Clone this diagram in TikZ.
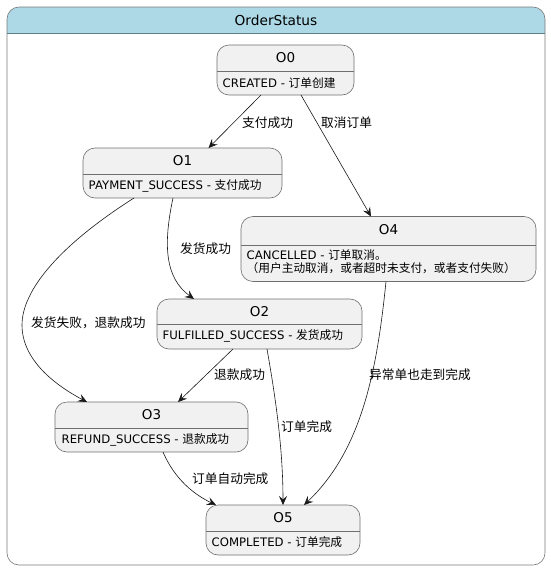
\documentclass[tikz,border=0pt]{standalone}
\usepackage{fontspec}
\setmainfont{DejaVu Sans}
\newfontfamily\cjk{Noto Sans CJK SC}
\usetikzlibrary{arrows.meta}
\definecolor{hdrblue}{HTML}{ADD8E6}
\definecolor{hdrline}{HTML}{5F7F8A}
\definecolor{contline}{HTML}{7A7A7A}
\definecolor{boxfill}{HTML}{F1F1F1}
\definecolor{boxline}{HTML}{6F6F6F}
\definecolor{edgecol}{HTML}{181818}
\tikzset{
  statebox/.style={draw=boxline, fill=boxfill, rounded corners=12pt, line width=0.6pt, inner sep=0pt, outer sep=0pt},
  sepline/.style={draw=boxline, line width=0.6pt},
  stitle/.style={font=\fontsize{13.5}{16}\selectfont, inner sep=0pt},
  sbody/.style={font=\fontsize{11.7}{14}\selectfont, anchor=west, inner sep=0pt},
  elabel/.style={font=\fontsize{12.7}{15}\selectfont, anchor=west, inner sep=0pt},
  hdrtitle/.style={font=\fontsize{13.7}{16}\selectfont, inner sep=0pt},
  trans/.style={draw=edgecol, line width=0.6pt, -{Stealth[length=9pt,width=8pt,inset=3.5pt]}}
}
\begin{document}
\begin{tikzpicture}[x=1pt,y=-1pt]
\useasboundingbox (0,0) rectangle (551,570);
% container
\fill[hdrblue] (7,33) [rounded corners=12pt] -- (7,7) -- (545,7) [sharp corners] -- (545,33) -- cycle;
\node[draw=contline, rounded corners=12pt, line width=0.6pt, minimum width=538pt, minimum height=558pt, inner sep=0pt, outer sep=0pt] (box) at (276,286) {};
\draw[hdrline, line width=0.6pt] ([yshift=-26pt]box.north west) -- ([yshift=-26pt]box.north east);
\node[hdrtitle] (hdr) at (276,20) {OrderStatus};

% O0
\node[statebox, minimum width=137pt, minimum height=50pt] (O0) at (285.5,70) {};
\draw[sepline] ([yshift=-1.5pt]O0.west) -- ([yshift=-1.5pt]O0.east);
\node[stitle] (O0t) at (285.5,58) {O0};
\node[sbody] (O0b) at (222.5,83) {CREATED - {\cjk 订单创建}};

% O1
\node[statebox, minimum width=199pt, minimum height=50pt] (O1) at (182.5,173) {};
\draw[sepline] ([yshift=-1pt]O1.west) -- ([yshift=-1pt]O1.east);
\node[stitle] (O1t) at (182.5,161) {O1};
\node[sbody] (O1b) at (88.5,185.5) {PAYMENT\_SUCCESS - {\cjk 支付成功}};

% O4
\node[statebox, minimum width=295pt, minimum height=65pt] (O4) at (388.5,249) {};
\draw[sepline] ([yshift=3.5pt]O4.west) -- ([yshift=3.5pt]O4.east);
\node[stitle] (O4t) at (388.5,229.5) {O4};
\node[sbody] (O4b1) at (246.5,255) {CANCELLED - {\cjk 订单取消。}};
\node[sbody] (O4b2) at (246.5,268.5) {{\cjk （用户主动取消，或者超时未支付，或者支付失败）}};

% O2
\node[statebox, minimum width=205pt, minimum height=50pt] (O2) at (259.5,324) {};
\draw[sepline] ([yshift=-0.5pt]O2.west) -- ([yshift=-0.5pt]O2.east);
\node[stitle] (O2t) at (259.5,312) {O2};
\node[sbody] (O2b) at (162.5,336) {FULFILLED\_SUCCESS - {\cjk 发货成功}};

% O3
\node[statebox, minimum width=193pt, minimum height=50pt] (O3) at (151.5,427) {};
\draw[sepline] ([yshift=-1pt]O3.west) -- ([yshift=-1pt]O3.east);
\node[stitle] (O3t) at (151.5,415) {O3};
\node[sbody] (O3b) at (61.5,439.5) {REFUND\_SUCCESS - {\cjk 退款成功}};

% O5
\node[statebox, minimum width=154pt, minimum height=50pt] (O5) at (283,530) {};
\draw[sepline] ([yshift=-1pt]O5.west) -- ([yshift=-1pt]O5.east);
\node[stitle] (O5t) at (283,518) {O5};
\node[sbody] (O5b) at (211.5,542.5) {COMPLETED - {\cjk 订单完成}};

% transitions
\draw[trans] ([xshift=-24.5pt]O0.south) -- ([xshift=26pt]O1.north);
\draw[trans] ([xshift=15.5pt]O0.south) -- ([xshift=-17.5pt]O4.north);
\draw[trans] ([xshift=-48.5pt]O1.south) .. controls (60,245) and (22,290) .. (22,325)
             .. controls (22,360) and (55,385) .. ([xshift=-64.5pt]O3.north);
\draw[trans] ([xshift=-9.5pt]O1.south) .. controls (163,245) and (165,278) .. ([xshift=-65.5pt]O2.north);
\draw[trans] ([xshift=-26.5pt]O2.south) -- ([xshift=26.5pt]O3.north);
\draw[trans] ([xshift=7.5pt]O2.south) .. controls (276,400) and (283,450) .. (O5.north);
\draw[trans] ([xshift=-2.5pt]O4.south) .. controls (377,370) and (362,450) .. ([xshift=21pt]O5.north);
\draw[trans] ([xshift=11.5pt]O3.south) .. controls (175,480) and (195,495) .. ([xshift=-67pt]O5.north);

% labels
\node[elabel] (l01) at (242,123) {\cjk 支付成功};
\node[elabel] (l04) at (321,123) {\cjk 取消订单};
\node[elabel] (l13) at (31,323) {\cjk 发货失败，退款成功};
\node[elabel] (l12) at (180,249) {\cjk 发货成功};
\node[elabel] (l23) at (214,375) {\cjk 退款成功};
\node[elabel] (l25) at (281,427) {\cjk 订单完成};
\node[elabel] (l45) at (369,375) {\cjk 异常单也走到完成};
\node[elabel] (l35) at (192,479) {\cjk 订单自动完成};
\end{tikzpicture}
\end{document}
